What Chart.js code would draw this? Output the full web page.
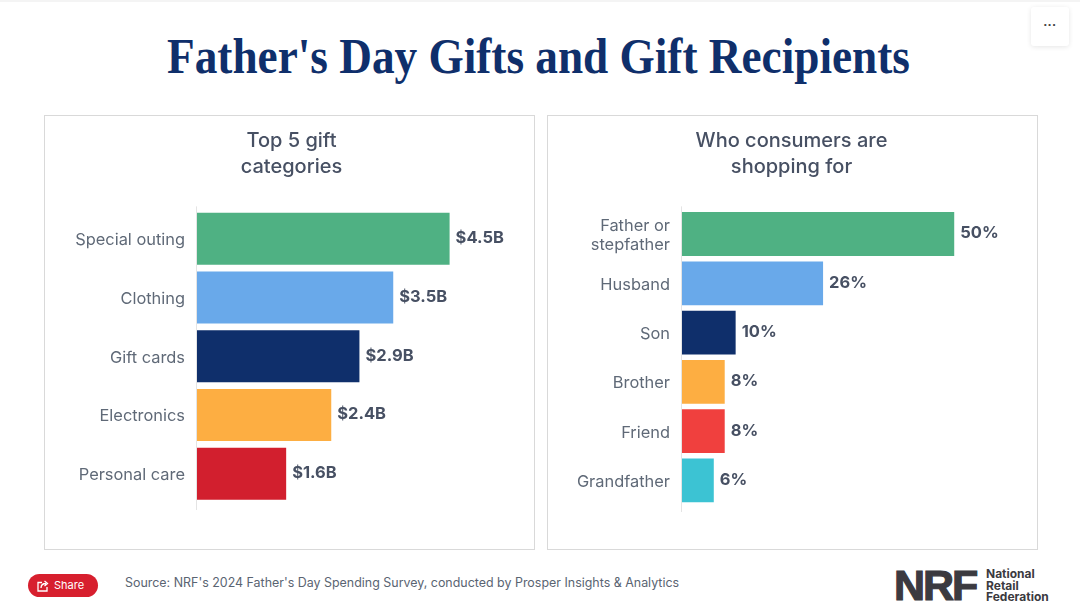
<!DOCTYPE html>
<html>
<head>
<meta charset="utf-8">
<script src="https://cdn.jsdelivr.net/npm/chart.js@4/dist/chart.umd.min.js"></script>
<style>
    html, body { margin: 0; padding: 0; background: #fff; }
    #page { position: relative; width: 1080px; height: 614px; overflow: hidden; background: #fff; }
    #topline { position: absolute; left: 0; top: 0; width: 1080px; height: 2px; background: #f4f4f4; }
    #titulo { position: absolute; left: 0; top: 26px; width: 1077px; text-align: center; margin: 0;
        font: bold 50px/60px "Liberation Serif", serif; color: #0f2f6b; transform: scaleX(0.905); white-space: nowrap; }
    #menu { position: absolute; left: 1031px; top: 7px; width: 38px; height: 39px; background: #fff; border-radius: 3px;
        box-shadow: 0 1px 5px rgba(0,0,0,0.10); text-align: center; font: bold 13px/36px "Liberation Sans", sans-serif; color: #444; }
    .panel { position: absolute; top: 115px; width: 489px; height: 433px; border: 1px solid #d9d9d9; }
    .panel canvas { position: absolute; left: 0; top: 0; }
    #share { position: absolute; left: 28px; top: 574px; width: 70px; height: 23px; border-radius: 12px; background: #d71f2e;
        color: #fff; font: 11px/23px Inter, sans-serif; }
    #share svg { position: absolute; left: 9px; top: 6px; }
    #share span { position: absolute; left: 26px; top: 0; }
    #fuente { position: absolute; left: 125px; top: 574px; font: 12.45px/18px Inter, sans-serif; color: #5a6472; white-space: nowrap; }
    #nrf { position: absolute; left: 894px; top: 567px; font: 900 43px/36px "Liberation Sans", sans-serif; color: #3b3a40;
        letter-spacing: -2px; -webkit-text-stroke: 1.2px #3b3a40; }
    #nrf2 { position: absolute; left: 986px; top: 568px; font: bold 12px/11.5px Inter, sans-serif; color: #3b3a40; }
</style>
</head>
<body>
<div id="page">
    <div id="topline"></div>
    <h1 id="titulo">Father's Day Gifts and Gift Recipients</h1>
    <div id="menu">···</div>
    <div class="panel" style="left:44px"><canvas id="chartRegalos"></canvas></div>
    <div class="panel" style="left:547px"><canvas id="chartPersonas"></canvas></div>
    <div id="share">
        <svg width="12" height="12" viewBox="0 0 12 12" fill="none" stroke="#fff" stroke-width="1.3">
            <path d="M5 2.5H1v8.5h9V7"/><path d="M4 8c0-3 2-4.500 5-4.500M7.500 1l3 2.500-3 2.500"/>
        </svg>
        <span>Share</span>
    </div>
    <div id="fuente">Source: NRF's 2024 Father's Day Spending Survey, conducted by Prosper Insights &amp; Analytics</div>
    <div id="nrf">NRF</div>
    <div id="nrf2">National<br>Retail<br>Federation</div>
</div>
<script>
const categoriasRegalos = ['Special outing', 'Clothing', 'Gift cards', 'Electronics', 'Personal care'];
const valoresRegalos = [4.5, 3.5, 2.9, 2.4, 1.6];
const coloresRegalos = ['#4fb183', '#69a9ea', '#0f2f6b', '#fdae42', '#d21f2e'];

const categoriasPersonas = [['Father or', 'stepfather'], 'Husband', 'Son', 'Brother', 'Friend', 'Grandfather'];
const valoresPersonas = [50, 26, 10, 8, 8, 6];
const coloresPersonas = ['#4fb183', '#69a9ea', '#0f2f6b', '#fdae42', '#f0403e', '#3cc3d3'];

const fuente = 'Inter, sans-serif';

// etiqueta de valor al final de cada barra y linea del eje un poco mas larga que el area
const etiquetasBarra = {
    id: 'etiquetasBarra',
    afterDatasetsDraw(chart, args, opts) {
        const { ctx, chartArea } = chart;
        ctx.save();
        ctx.strokeStyle = '#e4e4e4';
        ctx.beginPath();
        ctx.moveTo(chartArea.left - 0.5, chartArea.top - 3);
        ctx.lineTo(chartArea.left - 0.5, chartArea.bottom + 7);
        ctx.stroke();
        ctx.font = '700 16.5px ' + fuente;
        ctx.fillStyle = '#475063';
        ctx.textBaseline = 'middle';
        chart.getDatasetMeta(0).data.forEach((barra, i) => {
            ctx.fillText(opts.formato(chart.data.datasets[0].data[i]), barra.x + 5, barra.y - 0.5);
        });
        ctx.restore();
    }
};

function crearGrafica(id, categorias, valores, colores, titulo, max, ejeAncho, formato, grosor, abajo, izq, der) {
    const canvas = document.getElementById(id);
    canvas.style.width = '489px';
    canvas.style.height = '433px';
    canvas.width = 489;
    canvas.height = 433;
    return new Chart(canvas, {
        type: 'bar',
        data: {
            labels: categorias,
            datasets: [{
                data: valores,
                backgroundColor: colores,
                borderColor: 'rgba(255,255,255,0.35)',
                borderWidth: 1,
                barPercentage: grosor,
                categoryPercentage: 1
            }]
        },
        plugins: [etiquetasBarra],
        options: {
            indexAxis: 'y',
            responsive: false,
            animation: false,
            devicePixelRatio: 1,
            layout: { padding: { top: 0, bottom: abajo, left: izq, right: der } },
            plugins: {
                legend: { display: false },
                tooltip: { enabled: false },
                title: {
                    display: true,
                    text: titulo,
                    color: '#475063',
                    font: { family: fuente, size: 20, weight: '500', lineHeight: 1.31 },
                    padding: { top: 12, bottom: 29 }
                },
                etiquetasBarra: { formato }
            },
            scales: {
                x: { display: false, min: 0, max },
                y: {
                    afterFit(eje) { eje.width = ejeAncho; },
                    grid: { display: false, drawTicks: false },
                    border: { display: false },
                    ticks: { color: '#5f6977', padding: 12, labelOffset: 1.5, font: { family: fuente, size: 16.4, lineHeight: '19px' } }
                }
            }
        }
    });
}

crearGrafica('chartRegalos', categoriasRegalos, valoresRegalos, coloresRegalos,
    ['Top 5 gift', 'categories'], 5.98, 148, v => '$' + v.toFixed(1) + 'B', 0.92, 46, 4, 0);
crearGrafica('chartPersonas', categoriasPersonas, valoresPersonas, coloresPersonas,
    ['Who consumers are', 'shopping for'], 64.6, 134, v => v + '%', 0.93, 44, 0, 2);
</script>
</body>
</html>
